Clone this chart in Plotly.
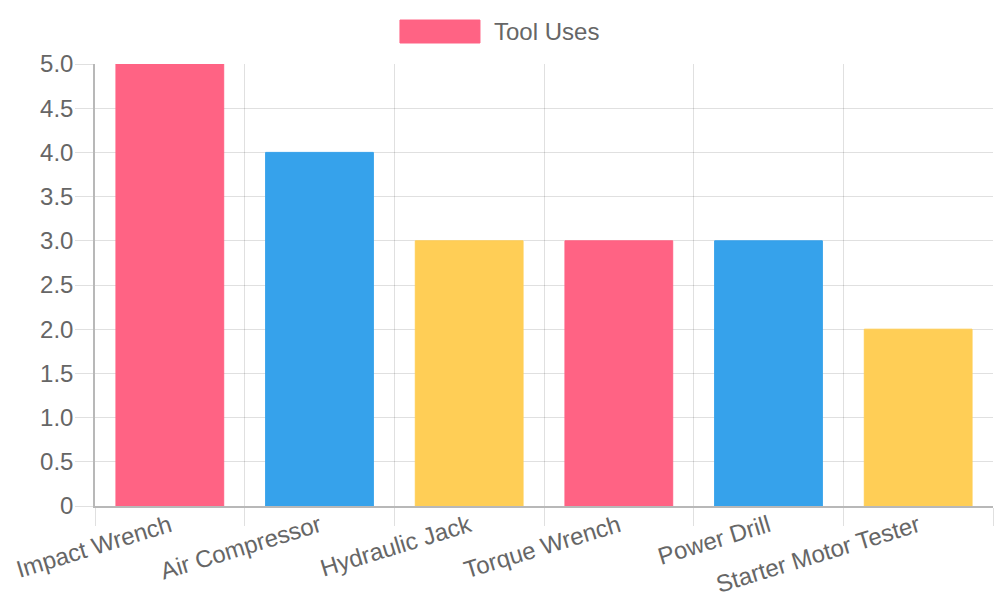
import plotly.graph_objects as go

categories = ["Impact Wrench", "Air Compressor", "Hydraulic Jack", "Torque Wrench", "Power Drill", "Starter Motor Tester"]
values = [5, 4, 3, 3, 3, 2]
colors = ["#FF6384", "#36A2EB", "#FFCE56", "#FF6384", "#36A2EB", "#FFCE56"]
series_name = "Tool Uses"
y_tick_vals = [0, 0.5, 1, 1.5, 2, 2.5, 3, 3.5, 4, 4.5, 5]
y_tick_text = ["0", "0.5", "1.0", "1.5", "2.0", "2.5", "3.0", "3.5", "4.0", "4.5", "5.0"]

FONT = "Liberation Sans, Arial, sans-serif"
GRID = "rgba(0,0,0,0.12)"
AXIS = "rgba(0,0,0,0.28)"

fig = go.Figure()
fig.add_trace(go.Bar(
    x=categories, y=values, name=series_name,
    marker=dict(color=colors, line=dict(color=colors, width=1)),
    showlegend=False,
))

fig.update_layout(
    width=1000, height=600,
    margin=dict(l=95, r=7, t=64, b=94),
    paper_bgcolor="white", plot_bgcolor="white",
    bargap=0.28,
    font=dict(family=FONT, size=24, color="#666666"),
    xaxis=dict(
        type="category", tickson="boundaries", automargin=False,
        showgrid=True, gridcolor=GRID, gridwidth=1,
        ticks="outside", ticklen=18, tickcolor=GRID, tickwidth=1,
        showline=True, linecolor=AXIS, linewidth=1.5,
        tickangle=-17, tickfont=dict(size=24, color="#666666"),
        ticklabelstandoff=-5,
        zeroline=False,
    ),
    yaxis=dict(
        range=[0, 5], tickvals=y_tick_vals, ticktext=y_tick_text, automargin=False,
        showgrid=True, gridcolor=GRID, gridwidth=1,
        ticks="outside", ticklen=18, tickcolor=GRID, tickwidth=1,
        showline=True, linecolor=AXIS, linewidth=1.5,
        zeroline=False, ticklabelstandoff=-3,
        tickfont=dict(size=24, color="#666666"),
    ),
)

# custom legend (wide colour box like Chart.js)
fig.add_shape(type="rect", xref="paper", yref="paper",
              x0=0.3396, x1=0.4287, y0=1.0475, y1=1.0995,
              fillcolor=colors[0], line=dict(color=colors[0], width=1))
fig.add_annotation(xref="paper", yref="paper", x=0.442, y=1.0735,
                   text=series_name, showarrow=False, xanchor="left", yanchor="middle",
                   font=dict(family=FONT, size=24, color="#666666"))

fig.write_html("out.html")
